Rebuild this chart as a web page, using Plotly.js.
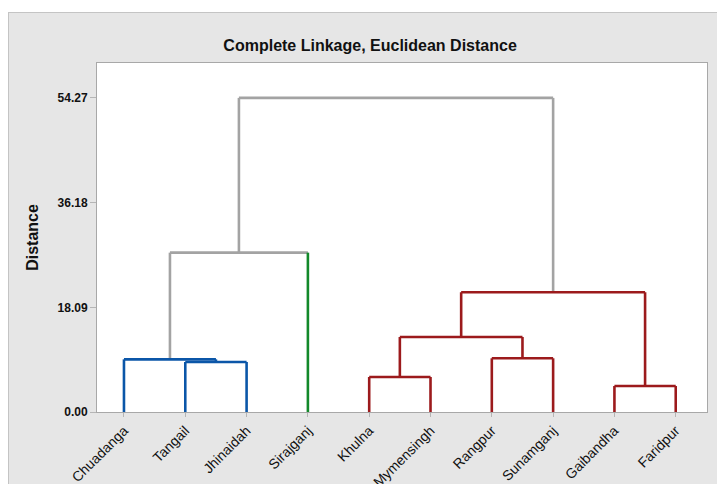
<!DOCTYPE html>
<html>
<head>
<meta charset="utf-8">
<script src="https://cdn.plot.ly/plotly-3.0.1.min.js"></script>
<style>
  html, body { margin: 0; padding: 0; background: #ffffff; width: 717px; height: 484px; overflow: hidden; }
  #wrap { position: absolute; left: 8px; top: 12px; border-top: 1px solid #c4c4c4; border-left: 1px solid #c4c4c4; }
  #plot { width: 708px; height: 471px; }
</style>
</head>
<body>
<div id="wrap"><div id="plot"></div></div>
<script>
// ---- data ----
const leaves = ['Chuadanga', 'Tangail', 'Jhinaidah', 'Sirajganj', 'Khulna',
                'Mymensingh', 'Rangpur', 'Sunamganj', 'Gaibandha', 'Faridpur'];
// final cluster membership of each leaf (cut between 20.69 and 27.53)
const leafCluster = [1, 1, 1, 2, 3, 3, 3, 3, 3, 3];
// linkage: merge k creates node id leaves.length + k
const mergeLeft   = [8, 4, 1, 0, 6, 11, 15, 13, 17];
const mergeRight  = [9, 5, 2, 12, 7, 14, 10, 3, 16];
const mergeHeight = [4.49, 6.05, 8.64, 9.10, 9.28, 12.96, 20.69, 27.53, 54.27];
const yTickVals   = [0, 18.09, 36.18, 54.27];

// ---- styles ----
const clusterColor = {0: '#a3a3a3', 1: '#0b56a8', 2: '#13892a', 3: '#9c1a1c'};

// ---- build dendrogram geometry from linkage ----
const n = leaves.length;
const pos = [], hgt = [], clus = [];
for (let i = 0; i < n; i++) { pos.push(i + 1); hgt.push(0); clus.push(leafCluster[i]); }
const segs = {}; // color -> {x:[], y:[]}
function addSeg(color, xs, ys) {
  if (!segs[color]) segs[color] = {x: [], y: []};
  segs[color].x.push(...xs, null);
  segs[color].y.push(...ys, null);
}
for (let k = 0; k < mergeHeight.length; k++) {
  const a = mergeLeft[k], b = mergeRight[k], H = mergeHeight[k];
  const c = (clus[a] === clus[b]) ? clus[a] : 0;
  const mc = clusterColor[c];
  const legColor = (child) => (c === 0 && child < n) ? clusterColor[clus[child]] : mc;
  addSeg(legColor(a), [pos[a], pos[a]], [hgt[a], H]);
  addSeg(mc, [pos[a], pos[b]], [H, H]);
  addSeg(legColor(b), [pos[b], pos[b]], [hgt[b], H]);
  pos.push((pos[a] + pos[b]) / 2);
  hgt.push(H);
  clus.push(c);
}
const order = [clusterColor[0], clusterColor[1], clusterColor[2], clusterColor[3]];
const traces = order.filter(col => segs[col]).map(col => ({
  type: 'scatter', mode: 'lines', x: segs[col].x, y: segs[col].y,
  line: {color: col, width: 2.6}, hoverinfo: 'skip', showlegend: false, connectgaps: false
}));

const font = 'Liberation Sans, Arial, sans-serif';
const layout = {
  width: 708, height: 471,
  margin: {l: 88, r: 10, t: 50, b: 72, pad: 0},
  paper_bgcolor: '#e6e6e6',
  plot_bgcolor: '#ffffff',
  title: {
    text: 'Complete Linkage, Euclidean Distance',
    font: {family: font, size: 16, weight: 'bold', color: '#111111'},
    xref: 'container', x: 0.51, xanchor: 'center',
    yref: 'container', y: 1 - 32 / 471, yanchor: 'middle'
  },
  xaxis: {
    range: [0.56, 10.51],
    tickmode: 'array', tickvals: leaves.map((_, i) => i + 1), ticktext: leaves,
    tickangle: -45,
    tickfont: {family: font, size: 14, color: '#111111'},
    ticks: 'outside', ticklen: 4, tickcolor: '#b5b5b5', tickwidth: 1,
    showline: true, mirror: true, linecolor: '#a8a8a8', linewidth: 1,
    showgrid: false, zeroline: false, fixedrange: true
  },
  yaxis: {
    range: [0, 60.3],
    tickmode: 'array', tickvals: yTickVals, ticktext: yTickVals.map(v => v.toFixed(2)),
    tickfont: {family: font, size: 12, weight: 'bold', color: '#111111'},
    ticks: 'outside', ticklen: 6, tickcolor: '#b5b5b5', tickwidth: 1,
    showline: true, mirror: true, linecolor: '#a8a8a8', linewidth: 1,
    showgrid: false, zeroline: false, fixedrange: true,
    title: {text: 'Distance', font: {family: font, size: 16, weight: 'bold', color: '#111111'}, standoff: 14}
  }
};
Plotly.newPlot('plot', traces, layout, {staticPlot: true, displayModeBar: false});
</script>
</body>
</html>
